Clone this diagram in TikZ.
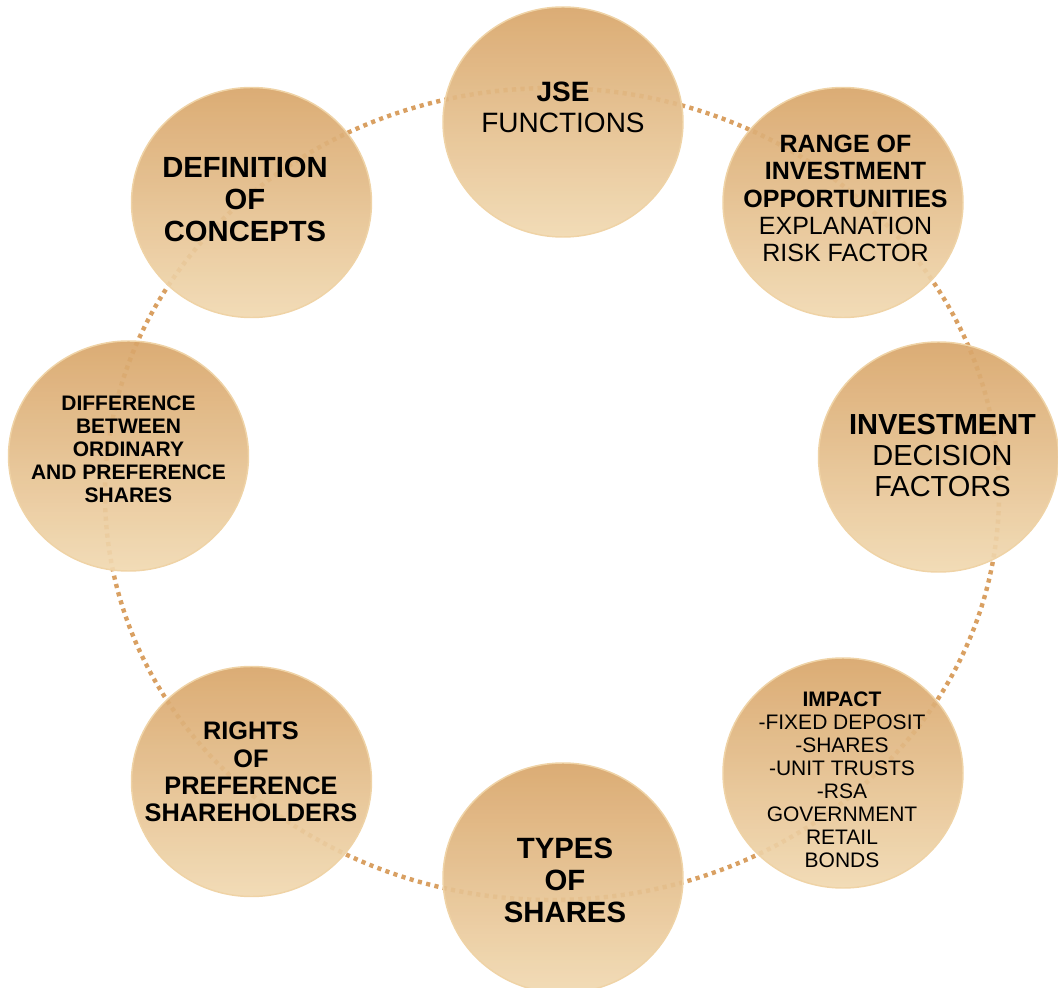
\documentclass[tikz,border=0pt]{standalone}
\usepackage{fontspec}
\setmainfont{Liberation Sans}
\usetikzlibrary{shapes.geometric}
\definecolor{ringc}{HTML}{D9A062}
\definecolor{topc}{HTML}{D8A569}
\definecolor{botc}{HTML}{F1D9B1}
\definecolor{edgec}{HTML}{EFD3A6}

\begin{document}
\begin{tikzpicture}[x=0.75pt,y=-0.75pt,
  ball/.style={ellipse, minimum width=180pt, minimum height=172.5pt, inner sep=0pt,
    top color=topc, bottom color=botc, draw=edgec, line width=1.1pt, fill opacity=0.92},
  txt/.style={align=center, inner sep=0pt, text=black},
  ring/.style={draw=ringc, line width=3.3pt, dash pattern=on 3.1pt off 3.3pt}
]
\useasboundingbox (0,0) rectangle (1058,988);
\clip (0,0) rectangle (1058,988);

% dotted ring behind the circles
\draw[ring] (552,494) ellipse [x radius=447, y radius=406];

% the eight topic circles
\node[ball] (c1) at (563,122) {};
\node[ball] (c2) at (843,202.5) {};
\node[ball] (c3) at (938.5,457) {};
\node[ball] (c4) at (843,773) {};
\node[ball] (c5) at (563,878) {};
\node[ball] (c6) at (251.5,781.5) {};
\node[ball] (c7) at (128.5,456) {};
\node[ball] (c8) at (251.5,202.5) {};

% labels
\node[txt, font=\fontsize{21}{23.25}\selectfont] (t1) at (563,107)
  {\textbf{JSE}\\FUNCTIONS};
\node[txt, font=\fontsize{18.75}{20.5}\selectfont] (t2) at (845.5,198.5)
  {\textbf{RANGE OF}\\\textbf{INVESTMENT}\\\textbf{OPPORTUNITIES}\\EXPLANATION\\RISK FACTOR};
\node[txt, font=\fontsize{21.75}{23.25}\selectfont] (t3) at (942.5,455.5)
  {\textbf{INVESTMENT}\\DECISION\\FACTORS};
\node[txt, font=\fontsize{15.75}{17.3}\selectfont] (t4) at (842,780)
  {\textbf{IMPACT}\\-FIXED DEPOSIT\\-SHARES\\-UNIT TRUSTS\\-RSA\\GOVERNMENT\\RETAIL\\BONDS};
\node[txt, font=\bfseries\fontsize{22}{24}\selectfont] (t5) at (565,880.5)
  {TYPES\\OF\\SHARES};
\node[txt, font=\bfseries\fontsize{19}{20.4}\selectfont] (t6) at (251,772)
  {RIGHTS\\OF\\PREFERENCE\\SHAREHOLDERS};
\node[txt, font=\bfseries\fontsize{15.75}{17.25}\selectfont] (t7) at (128.5,449.5)
  {DIFFERENCE\\BETWEEN\\ORDINARY\\AND PREFERENCE\\SHARES};
\node[txt, font=\bfseries\fontsize{21.9}{23.8}\selectfont] (t8) at (245,199.5)
  {DEFINITION\\OF\\CONCEPTS};
\end{tikzpicture}
\end{document}
